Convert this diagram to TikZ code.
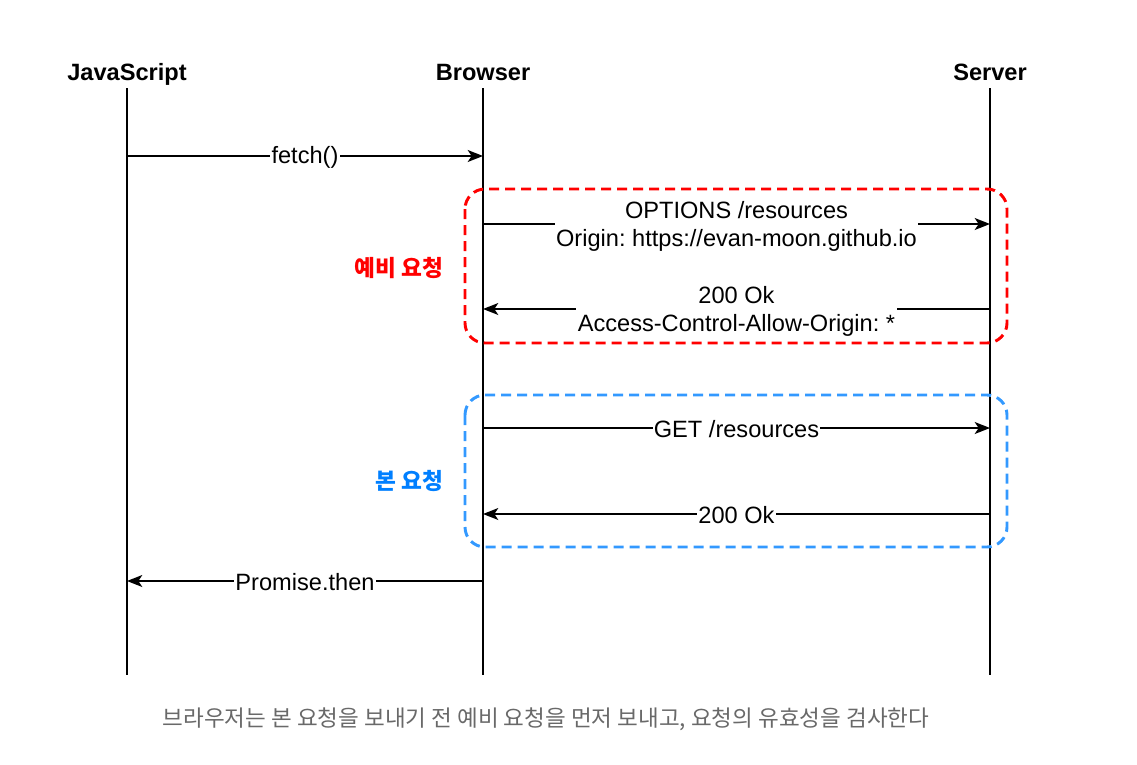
\documentclass[tikz,border=0pt]{standalone}
\usepackage{fontspec}
\setmainfont{Liberation Sans}
\newfontfamily\krfont{Noto Sans CJK KR}
\usetikzlibrary{arrows.meta}
\definecolor{boxred}{RGB}{255,0,0}
\definecolor{boxblue}{RGB}{51,153,255}
\definecolor{txtblue}{RGB}{0,127,255}
\definecolor{capgray}{RGB}{105,105,105}
\frenchspacing
\begin{document}
\begin{tikzpicture}[x=0.75pt,y=-0.75pt,
  life/.style={line width=1.1pt},
  msg/.style={line width=1.1pt,-{Stealth[length=11.5pt,width=9pt,inset=3pt]}},
  lbl/.style={fill=white,inner sep=1pt,font=\fontsize{17.7}{21}\selectfont,align=center,yshift=-1pt},
  lbl2/.style={lbl,yshift=-0.5pt},
  head/.style={anchor=base,font=\bfseries\fontsize{17.7}{21}\selectfont},
  grp/.style={line width=2.2pt,dash pattern=on 7.5pt off 4.5pt,rounded corners=15pt},
  grplbl/.style={anchor=east,font=\krfont\bfseries\fontsize{17}{20}\selectfont}]
\useasboundingbox (0,0) rectangle (1137,764);
% headers
\node[head] (js) at (127,80) {JavaScript};
\node[head] (br) at (483,80) {Browser};
\node[head] (sv) at (990,80) {Server};
% lifelines
\coordinate (jsT) at (127,88); \coordinate (jsB) at (127,675);
\coordinate (brT) at (483,88); \coordinate (brB) at (483,675);
\coordinate (svT) at (990,88); \coordinate (svB) at (990,675);
\draw[life] (jsT) -- (jsB);
\draw[life] (brT) -- (brB);
\draw[life] (svT) -- (svB);
% message anchors
\coordinate (m1a) at (127,156); \coordinate (m1b) at (483,156);
\coordinate (m2a) at (483,224); \coordinate (m2b) at (990,224);
\coordinate (m3a) at (990,309); \coordinate (m3b) at (483,309);
\coordinate (m4a) at (483,428); \coordinate (m4b) at (990,428);
\coordinate (m5a) at (990,514); \coordinate (m5b) at (483,514);
\coordinate (m6a) at (483,581); \coordinate (m6b) at (127,581);
\draw[msg] (m1a) -- node[lbl] (l1) {fetch()} (m1b);
\draw[msg] (m2a) -- node[lbl2] (l2) {OPTIONS /resources\\Origin: https://evan-moon.github.io} (m2b);
\draw[msg] (m3a) -- node[lbl2] (l3) {200 Ok\\Access-Control-Allow-Origin: *} (m3b);
\draw[msg] (m4a) -- node[lbl] (l4) {GET /resources} (m4b);
\draw[msg] (m5a) -- node[lbl] (l5) {200 Ok} (m5b);
\draw[msg] (m6a) -- node[lbl] (l6) {Promise.then} (m6b);
% groups
\draw[grp,draw=boxred] (465,189) rectangle (1007,343);
\draw[grp,draw=boxblue] (465,395) rectangle (1007,547);
\node[grplbl,text=boxred] (g1) at (448,268) {예비 요청};
\node[grplbl,text=txtblue] (g2) at (448,481) {본 요청};
% caption
\node[font=\krfont\fontsize{16.9}{20}\selectfont,text=capgray] (cap) at (546,719) {브라우저는 본 요청을 보내기 전 예비 요청을 먼저 보내고, 요청의 유효성을 검사한다};
\end{tikzpicture}
\end{document}
